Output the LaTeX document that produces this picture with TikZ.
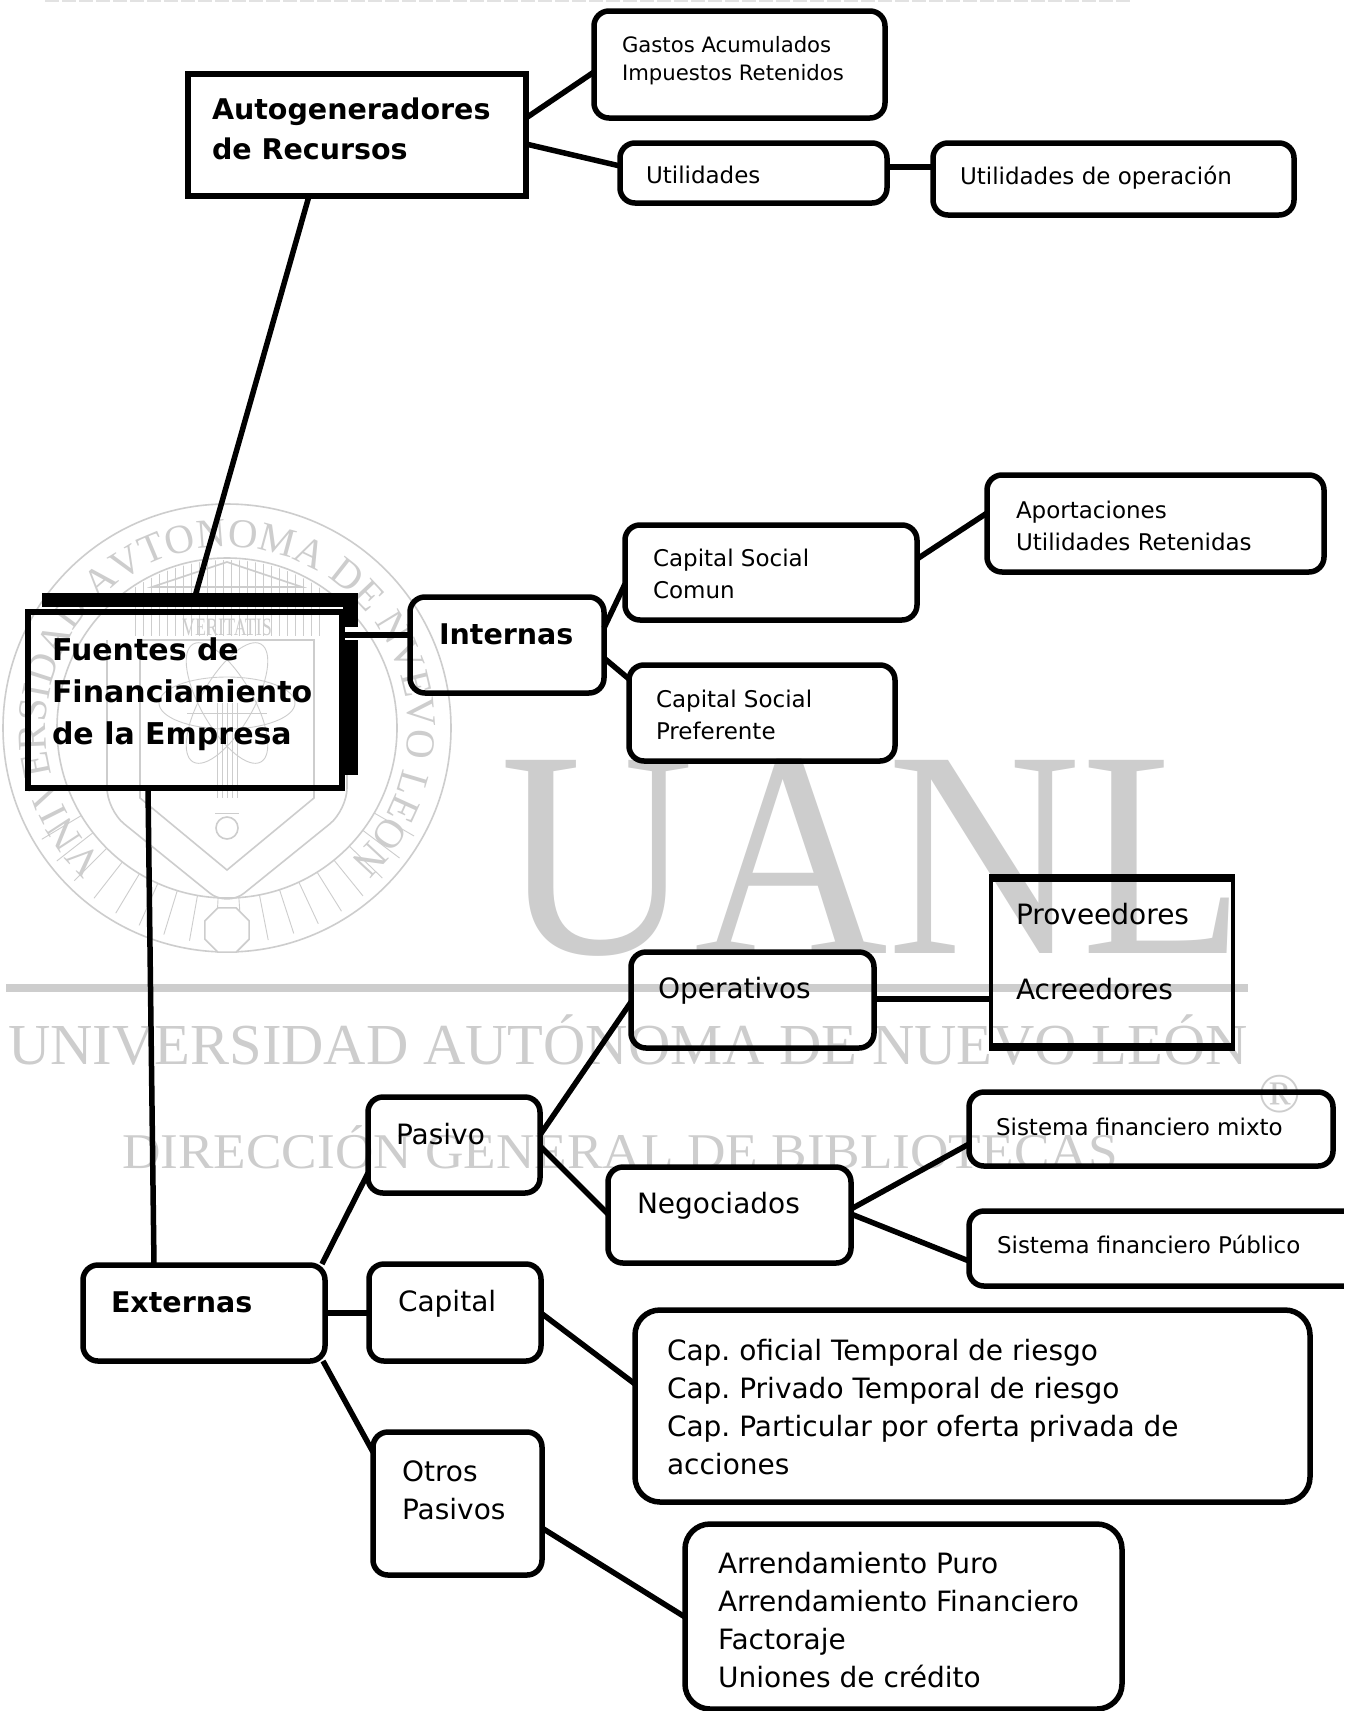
\documentclass[tikz,border=0pt]{standalone}
\usepackage{fontspec}
\setmainfont{DejaVu Sans}
\newfontfamily\wmserif{Liberation Serif}
\usetikzlibrary{calc,decorations.text}
\definecolor{wm}{HTML}{CDCDCD}
\definecolor{wmfaint}{HTML}{E2E2E2}
\tikzset{
  rbox/.style={draw=black,line width=5.5pt,rounded corners=#1,inner sep=0pt,outer sep=0pt,anchor=center},
  rbox/.default=15pt,
  sbox/.style={draw=black,line width=5.5pt,inner sep=0pt,outer sep=0pt,anchor=center},
  tbox/.style={draw=black,line width=4pt,inner sep=0pt,outer sep=0pt,anchor=center},
  link/.style={draw=black,line width=5.5pt},
  wmline/.style={draw=wm,line width=1.6pt},
  wmthin/.style={draw=wm,line width=.9pt},
  wmtext/.style={text=wm,inner sep=0pt,anchor=base west,font=\wmserif}
}
% style, name, x0, y0, x1, y1, text left offset, first baseline offset, text
\newcommand{\dgbox}[9][rbox]{%
  \node[#1] (#2) at ({(#3+#5)/2},{(#4+#6)/2}) {%
    \parbox[c][\dimexpr #6pt-#4pt\relax][t]{\dimexpr #5pt-#3pt\relax}{%
      \frenchspacing\leftskip=#7pt\relax\parindent=0pt\rightskip=0pt plus 1fil\relax
      \vspace*{\dimexpr #8pt-12pt\relax}\rule{0pt}{12pt}#9}};%
}
\newcommand{\fsma}{\fontsize{21.2}{28.5}\selectfont}
\newcommand{\fsmb}{\fontsize{23}{32}\selectfont}
\newcommand{\fmid}{\fontsize{28}{38}\selectfont}
\newcommand{\fboa}{\bfseries\fontsize{28.5}{40}\selectfont}
\newcommand{\fbob}{\bfseries\fontsize{30}{42}\selectfont}
\begin{document}
\begin{tikzpicture}[x=1pt,y=-1pt]
\useasboundingbox (0,0) rectangle (1349,1711);
\fill[white] (0,0) rectangle (1349,1711);
% top scan residue
\draw[draw=wmfaint,line width=1.2pt,dash pattern=on 14pt off 3pt] (45,1) -- (1130,1);
% ---- watermark: big letters
\node[wmtext,font=\wmserif\fontsize{295}{295}\selectfont,xscale=.91] (wmuanl) at (500,953) {UANL};
\fill[wm] (6,984) rectangle (1248,992);
\node[wmtext,font=\wmserif\fontsize{58}{58}\selectfont,xscale=1.01] (wmuni) at (8,1064) {UNIVERSIDAD AUTÓNOMA DE NUEVO LEÓN};
\node[wmtext,font=\wmserif\fontsize{50}{50}\selectfont,xscale=1.065] (wmdir) at (122,1168) {DIRECCIÓN GENERAL DE BIBLIOTECAS};
\node[wmtext,font=\wmserif\fontsize{56}{56}\selectfont] (wmreg) at (1258,1112) {®};
% ---- watermark: seal
\begin{scope}[shift={(227,728)}]
  \draw[wmline] (0,0) circle (224);
  \draw[wmline] (0,0) circle (170);
  \path[decorate,decoration={text along path,text align=center,
     text={|\wmserif\fontsize{41}{41}\selectfont\color{wm}|VNIVERSIDAD AVTONOMA DE NVEVO LEON}}]
     plot[smooth,domain=240:-60,samples=80] ({181*cos(\x)},{-181*sin(\x)});
  % vertical hatching above the shield
  \begin{scope}
    \clip (0,0) circle (168);
    \foreach \hx in {-92,-84,...,92} { \draw[wmthin] (\hx,-170) -- (\hx,-92); }
  \end{scope}
  % radial hatching below
  \foreach \ang in {30,37,...,150} { \draw[wmthin] (\ang:170) -- (\ang:216); }
  % shields
  \draw[wmline,rounded corners=22pt] (-120,-88) -- (-120,82) -- (0,179) -- (120,82) -- (120,-88);
  \draw[wmline] (-87,-88) -- (-87,70) -- (0,142) -- (87,70) -- (87,-88) -- cycle;
  % pediment
  \draw[wmline] (-75,-141) -- (0,-166) -- (75,-141) -- cycle;
  \node[wmtext,anchor=center,font=\wmserif\fontsize{25}{25}\selectfont,xscale=.72] (wmver) at (0,-101) {VERITATIS};
  % atom
  \foreach \rot in {0,60,120} { \draw[wmthin,rotate around={\rot:(0,-25)}] (0,-25) ellipse (68 and 26); }
  % torch
  \foreach \hx in {-10,-5,...,10} { \draw[wmthin] (\hx,-25) -- (\hx,70); }
  \draw[wmthin] (-40,-15) -- (40,-15);
  \draw[wmline] (0,100) circle (11);
  \draw[wmthin] (-12,85) -- (12,85);
\end{scope}
\draw[wmline,fill=white] ($(227,930)+(22.5:24)$) -- ($(227,930)+(67.5:24)$) -- ($(227,930)+(112.5:24)$) -- ($(227,930)+(157.5:24)$) -- ($(227,930)+(202.5:24)$) -- ($(227,930)+(247.5:24)$) -- ($(227,930)+(292.5:24)$) -- ($(227,930)+(337.5:24)$) -- cycle;
% ---- diagram boxes
\dgbox[sbox]{auto}{188}{74}{526}{196}{24}{36}{\fboa Autogeneradores\\de Recursos}
\dgbox{gastos}{594}{11}{885}{118}{28}{37}{\fsma Gastos Acumulados\\Impuestos Retenidos}
\dgbox{util}{620}{143}{887}{203}{26}{35}{\fsmb Utilidades}
\dgbox{oper}{933}{143}{1294}{215}{27}{35}{\fsmb Utilidades de operación}
\dgbox{apor}{987}{475}{1324}{572}{29}{38}{\fsmb Aportaciones\\Utilidades Retenidas}
\dgbox{csc}{625}{525}{917}{620}{28}{36}{\fsmb Capital Social\\Comun}
\dgbox{int}{410}{597}{604}{693}{29}{39}{\fboa Internas}
\dgbox{cpf}{629}{665}{895}{761}{27}{37}{\fsmb Capital Social\\Preferente}
\dgbox[sbox]{fu}{28}{612}{342}{788}{24}{38}{\fbob Fuentes de\\Financiamiento\\de la Empresa}
\fill[black] (42,593) rectangle (358,607);
\fill[black] (343,593) rectangle (358,627);
\fill[black] (344,640) rectangle (358,775);
\dgbox[tbox]{pro}{991}{877}{1233}{1048}{25}{38}{\fmid Proveedores\\[37pt]Acreedores}
\fill[black] ($(pro.north west)+(-2,-3)$) rectangle ($(pro.north east)+(2,5)$);
\fill[black] ($(pro.south west)+(-2,-5)$) rectangle ($(pro.south east)+(2,3)$);
\dgbox{ope}{631}{952}{874}{1048}{27}{37}{\fmid Operativos}
\dgbox{mix}{969}{1092}{1333}{1166}{27}{38}{\fsmb Sistema financiero mixto}
\dgbox{pas}{368}{1097}{540}{1193}{28}{38}{\fmid Pasivo}
\dgbox{neg}{608}{1167}{851}{1263}{29}{37}{\fmid Negociados}
\dgbox{pub}{969}{1211}{1380}{1286}{28}{36}{\fsmb Sistema financiero Público}
\dgbox{ext}{83}{1265}{325}{1361}{28}{39}{\fboa Externas}
\dgbox{cap}{369}{1264}{541}{1361}{29}{38}{\fmid Capital}
\dgbox[rbox=25pt]{cof}{635}{1310}{1310}{1502}{32}{41}{\fmid Cap. oficial Temporal de riesgo\\Cap. Privado Temporal de riesgo\\Cap. Particular por oferta privada de\\acciones}
\dgbox{otr}{373}{1432}{542}{1575}{29}{41}{\fmid Otros\\Pasivos}
\dgbox[rbox=25pt]{arr}{685}{1524}{1122}{1709}{33}{40}{\fmid Arrendamiento Puro\\Arrendamiento Financiero\\Factoraje\\Uniones de crédito}
% ---- connectors
\draw[link] ($(auto.north east)+(0,44)$) -- ($(gastos.north west)+(0,61)$);
\draw[link] ($(auto.north east)+(0,70)$) -- ($(util.north west)+(0,23)$);
\draw[link] ($(util.north east)+(0,24)$) -- ($(oper.north west)+(0,24)$);
\draw[link] ($(csc.north east)+(0,34)$) -- ($(apor.north west)+(0,38)$);
\draw[link] ($(int.north east)+(0,31)$) -- ($(csc.north west)+(0,59)$);
\draw[link] ($(int.north east)+(0,61)$) -- ($(cpf.north west)+(0,14)$);
\draw[link] ($(fu.north east)+(0,23)$) -- ($(int.north west)+(0,38)$);
\draw[link] ($(auto.south west)+(121,0)$) -- ($(fu.north west)+(166,-12)$);
\draw[link] ($(fu.south west)+(120,0)$) -- ($(ext.north west)+(71,0)$);
\draw[link] ($(ext.north east)+(-3,-1)$) -- ($(pas.north west)+(0,76)$);
\draw[link] ($(ext.north east)+(0,48)$) -- ($(cap.north west)+(0,49)$);
\draw[link] ($(ext.south east)+(-2,0)$) -- ($(otr.north west)+(0,20)$);
\draw[link] ($(pas.north east)+(0,38)$) -- ($(ope.north west)+(0,50)$);
\draw[link] ($(pas.north east)+(0,49)$) -- ($(neg.north west)+(0,47)$);
\draw[link] ($(ope.north east)+(0,47)$) -- ($(pro.north west)+(0,122)$);
\draw[link] ($(neg.north east)+(0,42)$) -- ($(mix.north west)+(0,52)$);
\draw[link] ($(neg.north east)+(0,47)$) -- ($(pub.north west)+(0,50)$);
\draw[link] ($(cap.north east)+(0,49)$) -- ($(cof.north west)+(0,74)$);
\draw[link] ($(otr.north east)+(0,96)$) -- ($(arr.north west)+(0,93)$);
% right margin: the last box runs off the page
\fill[white] (1344,1195) rectangle (1349,1300);
\end{tikzpicture}
\end{document}
